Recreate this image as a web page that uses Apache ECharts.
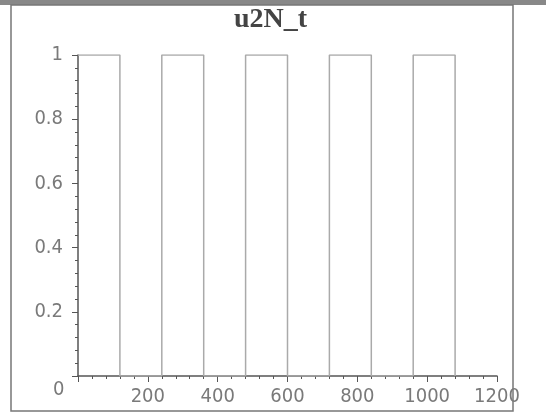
<!DOCTYPE html>
<html>
<head>
<meta charset="utf-8">
<script src="https://cdn.jsdelivr.net/npm/echarts@6/dist/echarts.min.js"></script>
<style>
  html, body { margin: 0; padding: 0; background: #fff; }
  #main { width: 546px; height: 413px; }
</style>
</head>
<body>
<div id="main"></div>
<script>
// switching instants of the signal and the level it takes from there on
const times = [0, 120, 240, 360, 480, 600, 720, 840, 960, 1080];
const levels = [1, 0, 1, 0, 1, 0, 1, 0, 1, 0];
const xTicks = [0, 200, 400, 600, 800, 1000, 1200];
const yTicks = [0, 0.2, 0.4, 0.6, 0.8, 1];

const axisColor = '#555';
const labelColor = '#7a7a7a';
const labelFont = '"DejaVu Sans Condensed", "Liberation Sans", sans-serif';

const chart = echarts.init(document.getElementById('main'));

const points = times.map((t, i) => [t, levels[i]]);

chart.setOption({
  animation: false,
  title: {
    text: 'u2N_t',
    left: 229,
    top: 1,
    textStyle: {
      fontFamily: 'Liberation Serif',
      fontWeight: 'bold',
      fontSize: 28,
      color: '#444'
    }
  },
  grid: { left: 78, right: 49, top: 55, bottom: 37 },
  xAxis: {
    type: 'value',
    min: xTicks[0],
    max: xTicks[xTicks.length - 1],
    interval: 200,
    axisLine: { lineStyle: { color: axisColor, width: 1.5 } },
    axisTick: { length: 6, lineStyle: { color: axisColor } },
    minorTick: { show: true, splitNumber: 5, length: 3, lineStyle: { color: axisColor } },
    splitLine: { show: false },
    axisLabel: {
      showMinLabel: false,
      margin: 11,
      formatter: v => String(v),
      fontFamily: labelFont,
      fontSize: 20,
      color: labelColor
    }
  },
  yAxis: {
    type: 'value',
    min: yTicks[0],
    max: yTicks[yTicks.length - 1],
    interval: 0.2,
    axisLine: { lineStyle: { color: axisColor, width: 1.5 } },
    axisTick: { length: 6, lineStyle: { color: axisColor } },
    minorTick: { show: true, splitNumber: 5, length: 3, lineStyle: { color: axisColor } },
    splitLine: { show: false },
    axisLabel: {
      showMinLabel: false,
      margin: 15,
      fontFamily: labelFont,
      fontSize: 20,
      color: labelColor
    }
  },
  graphic: [
    {
      type: 'rect',
      shape: { x: 0, y: 0, width: 546, height: 5 },
      style: { fill: '#888' },
      silent: true
    },
    {
      type: 'rect',
      shape: { x: 11, y: 5, width: 502, height: 406 },
      style: { fill: null, stroke: '#777', lineWidth: 1.5 },
      silent: true
    },
    {
      type: 'text',
      left: 53,
      top: 380,
      style: {
        text: '0',
        font: '20px ' + labelFont,
        fill: labelColor
      },
      silent: true
    }
  ],
  series: [
    {
      type: 'line',
      step: 'end',
      data: points,
      showSymbol: false,
      lineStyle: { color: '#aaa', width: 1.5 }
    }
  ]
});
</script>
</body>
</html>
